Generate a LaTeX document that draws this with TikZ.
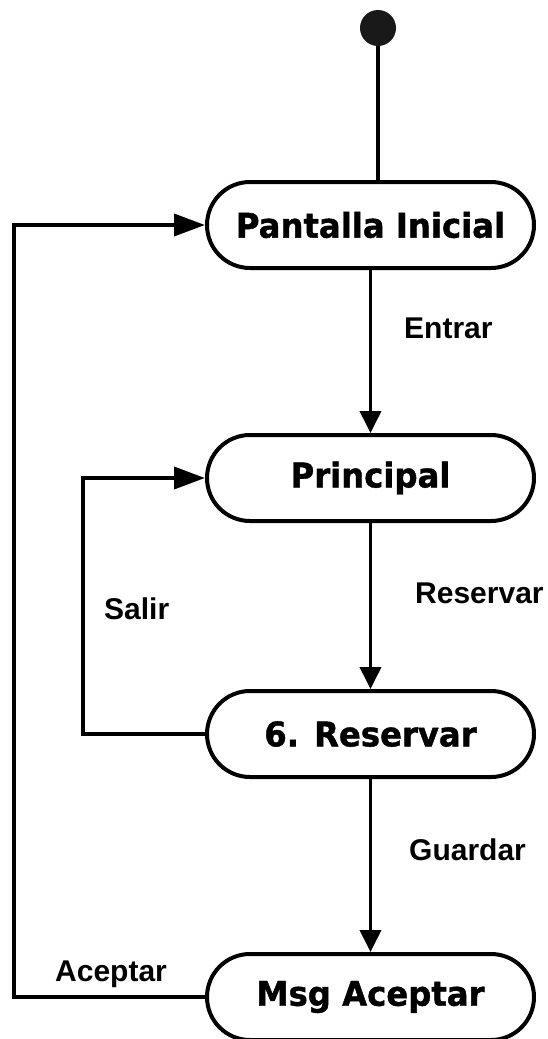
\documentclass[tikz,border=0pt]{standalone}
\usepackage{fontspec}
\newfontfamily\statefont{DejaVu Sans}[FakeStretch=0.95,BoldFeatures={FakeBold=1.2}]
\newfontfamily\labfont{Liberation Sans}
\usetikzlibrary{arrows.meta}
\tikzset{
  statebox/.style={draw, line width=4pt, rounded corners=43pt, minimum width=327pt, minimum height=86pt, inner sep=0pt, font=\statefont\bfseries\fontsize{34}{40}\selectfont},
  initstate/.style={circle, fill=black!90, minimum size=36pt, inner sep=0pt},
  conn/.style={line width=3.8pt},
  varrow/.style={conn, -{Triangle[length=22pt,width=21pt]}},
  harrow/.style={conn, -{Triangle[length=31pt,width=22pt]}},
  lab/.style={font=\labfont\bfseries\fontsize{30}{36}\selectfont, inner sep=0pt, anchor=base west}
}
\begin{document}
\begin{tikzpicture}[x=1pt,y=-1pt]
\useasboundingbox (0,0) rectangle (547,1039);
\node[initstate] (init) at (378,28) {};
\node[statebox] (PI) at (370.5,225) {Pantalla Inicial};
\node[statebox] (P) at (370.5,478) {Principal};
\node[statebox] (R) at (370.5,734) {6. Reservar};
\node[statebox] (M) at (370.5,997) {Msg Aceptar};
\coordinate (outer) at (14,997);
\coordinate (inner) at (83,734);
\draw[conn] (init) -- (init |- PI.north);
\draw[varrow] (PI) -- (P);
\draw[varrow] (P) -- (R);
\draw[varrow] (R) -- (M);
\draw[harrow] (R.west) -- (inner) |- (P.west);
\draw[harrow] (M.west) -- (outer) |- (PI.west);
\node[lab] (lEntrar) at (404,338) {Entrar};
\node[lab] (lReservar) at (415,603) {Reservar};
\node[lab] (lSalir) at (104,619) {Salir};
\node[lab] (lGuardar) at (409,860) {Guardar};
\node[lab] (lAceptar) at (55,981) {Aceptar};
\end{tikzpicture}
\end{document}
